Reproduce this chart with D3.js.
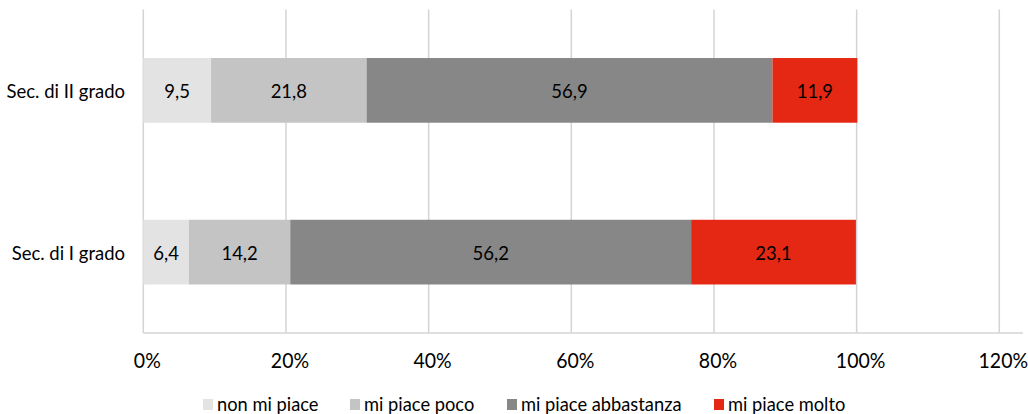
<!DOCTYPE html>
<html>
<head>
<meta charset="utf-8">
<script src="https://cdn.jsdelivr.net/npm/d3@7"></script>
<style>
  html, body { margin: 0; padding: 0; background: #fff; }
  svg { display: block; font-family: Lato, "Open Sans", sans-serif; }
</style>
</head>
<body>
<svg id="chart" width="1028" height="414"></svg>
<script>
// Gradimento per ordine di scuola (percentuali impilate)
const categories = ["Sec. di II grado", "Sec. di I grado"];
const seriesNames = ["non mi piace", "mi piace poco", "mi piace abbastanza", "mi piace molto"];
const nonMiPiace   = [9.5, 6.4];
const miPiacePoco  = [21.8, 14.2];
const abbastanza   = [56.9, 56.2];
const molto        = [11.9, 23.1];
const tickValues   = [0, 20, 40, 60, 80, 100, 120];
const colors       = ["#e3e3e3", "#c4c4c4", "#878787", "#e52814"];

const seriesValues = [nonMiPiace, miPiacePoco, abbastanza, molto];
const rows = categories.map((c, i) => {
  const r = { cat: c };
  seriesNames.forEach((s, k) => r[s] = seriesValues[k][i]);
  return r;
});

const svg = d3.select("#chart");
const plot = { left: 143.3, right: 999.3, top: 9.5, bottom: 333 };

const x = d3.scaleLinear().domain([0, 120]).range([plot.left, plot.right]);
const y = d3.scaleBand().domain(categories).range([plot.top, plot.bottom]).paddingInner(0.6).paddingOuter(0.3);

const fmt = v => d3.format(".1f")(v).replace(".", ",");
const fmtPct = v => v + "%";

// vertical gridlines
svg.append("g")
  .selectAll("line")
  .data(tickValues)
  .join("line")
  .attr("x1", d => x(d)).attr("x2", d => x(d))
  .attr("y1", plot.top).attr("y2", plot.bottom)
  .attr("stroke", "#d4d4d4").attr("stroke-width", 1.5);

// baseline
svg.append("line")
  .attr("x1", plot.left).attr("x2", 1023)
  .attr("y1", plot.bottom).attr("y2", plot.bottom)
  .attr("stroke", "#d4d4d4").attr("stroke-width", 1.5);

// stacked bars
const stack = d3.stack().keys(seriesNames);
const stacked = stack(rows);

const layers = svg.append("g").selectAll("g")
  .data(stacked)
  .join("g")
  .attr("fill", (d, i) => colors[i]);

layers.selectAll("rect")
  .data(d => d.map(s => ({ s, key: d.key })))
  .join("rect")
  .attr("x", d => x(d.s[0]))
  .attr("width", d => x(d.s[1]) - x(d.s[0]))
  .attr("y", d => y(d.s.data.cat))
  .attr("height", y.bandwidth());

// helper: text slightly stretched vertically
function label(g, tx, ty, text, opts) {
  return g.append("text")
    .attr("transform", `translate(${tx},${ty}) scale(1,${opts.sy || 1})`)
    .attr("text-anchor", opts.anchor || "middle")
    .attr("dominant-baseline", "central")
    .attr("font-size", opts.size)
    .attr("fill", opts.fill || "#000")
    .text(text);
}

// value labels
const valG = svg.append("g");
stacked.forEach(layer => {
  layer.forEach(s => {
    const v = s.data[layer.key];
    label(valG, (x(s[0]) + x(s[1])) / 2, y(s.data.cat) + y.bandwidth() / 2 + 1, fmt(v), { size: 18.5, sy: 1.02 });
  });
});

// category labels
const catG = svg.append("g");
categories.forEach(c => {
  label(catG, 125, y(c) + y.bandwidth() / 2 + 1, c, { size: 18.5, anchor: "end", sy: 1.02 });
});

// tick labels
const tickG = svg.append("g");
tickValues.forEach(t => {
  label(tickG, x(t) + 4, 359.5, fmtPct(t), { size: 19.5, sy: 1.1 });
});

// legend
const legendItems = [
  { name: seriesNames[0], sx: 203 },
  { name: seriesNames[1], sx: 350 },
  { name: seriesNames[2], sx: 507 },
  { name: seriesNames[3], sx: 714 }
];
const legG = svg.append("g");
legendItems.forEach((it, i) => {
  legG.append("rect").attr("x", it.sx).attr("y", 399).attr("width", 10).attr("height", 11).attr("fill", colors[i]);
  label(legG, it.sx + 14, 403.5, it.name, { size: 18.3, anchor: "start", sy: 1.0 });
});
</script>
</body>
</html>
